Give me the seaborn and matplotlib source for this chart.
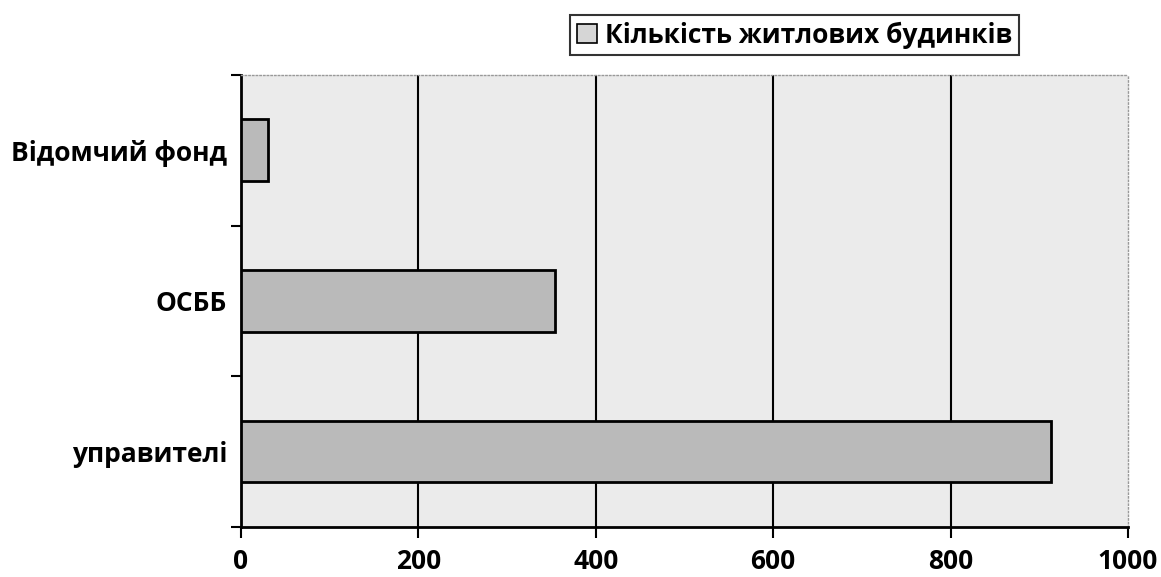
import matplotlib
matplotlib.use("Agg")
import matplotlib.pyplot as plt
import matplotlib.patches as mpatches
import pandas as pd
import seaborn as sns

categories = ["Відомчий фонд", "ОСББ", "управителі"]
values = [30, 354, 913]
series_name = "Кількість житлових будинків"
x_ticks = [0, 200, 400, 600, 800, 1000]

df = pd.DataFrame({"category": categories, "value": values})

sns.set_style("white")
plt.rcParams["font.family"] = ["Open Sans", "DejaVu Sans"]
plt.rcParams["text.color"] = "black"
plt.rcParams["xtick.color"] = "black"
plt.rcParams["ytick.color"] = "black"

fig = plt.figure(figsize=(11.61, 5.77), dpi=100)
ax = fig.add_axes([0.2076, 0.087, 0.764, 0.783])
ax.set_facecolor("#ebebeb")

sns.barplot(data=df, x="value", y="category", orient="h", order=categories,
            color="#bababa", edgecolor="black", linewidth=2, width=0.41,
            saturation=1, ax=ax, zorder=3)

ax.set_xlim(0, 1000)
ax.set_ylim(2.5, -0.5)
ax.set_xticks(x_ticks)
ax.set_xticklabels([str(t) for t in x_ticks], fontsize=19, fontweight="bold")
for t in x_ticks[1:-1]:
    ax.axvline(t, color="black", lw=1.5, zorder=1)

# category labels centred, tick marks on the boundaries
ax.set_yticks(range(len(categories)))
ax.set_yticklabels(categories, fontsize=19, fontweight="bold")
ax.tick_params(axis="y", which="major", left=True, length=0, pad=10)
ax.set_yticks([-0.5, 0.5, 1.5, 2.5], minor=True)
ax.tick_params(axis="y", which="minor", left=True, length=7, width=1.5,
               color="black", direction="out")
ax.tick_params(axis="x", bottom=True, length=8, width=1.5, color="black",
               direction="out", pad=7)

ax.set_xlabel("")
ax.set_ylabel("")
for side in ["left", "bottom"]:
    ax.spines[side].set_color("black")
    ax.spines[side].set_linewidth(2)
for side in ["top", "right"]:
    ax.spines[side].set_color("#999999")
    ax.spines[side].set_linestyle(":")
    ax.spines[side].set_linewidth(1)

handle = mpatches.Patch(facecolor="#d6d6d6", edgecolor="black", linewidth=1.2, label=series_name)
leg = fig.legend(handles=[handle], loc="center", bbox_to_anchor=(0.6843, 0.939),
                 frameon=True, fancybox=False, prop={"size": 19, "weight": "bold"},
                 handlelength=0.75, handleheight=0.75, handletextpad=0.3,
                 borderpad=0.25, borderaxespad=0)
leg.get_frame().set_edgecolor("black")
leg.get_frame().set_linewidth(1.5)

fig.savefig("out.png", dpi=100, facecolor="white")
